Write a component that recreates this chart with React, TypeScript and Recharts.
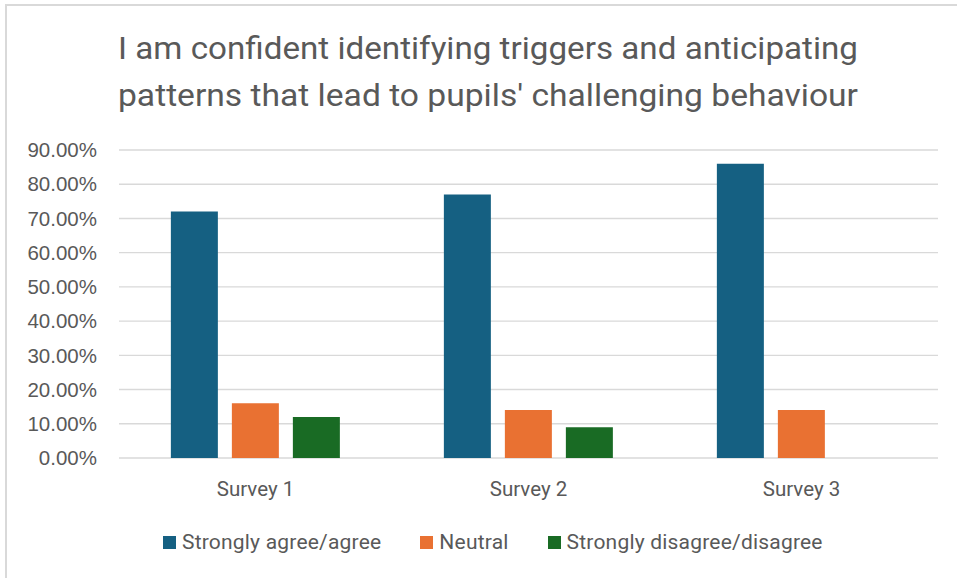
import { BarChart, Bar, XAxis, YAxis, CartesianGrid, Legend } from "recharts";

const categories = ["Survey 1", "Survey 2", "Survey 3"];
const agree = [0.72, 0.77, 0.86];
const neutral = [0.16, 0.14, 0.14];
const disagree = [0.12, 0.09, 0];
const yTicks = [0, 0.1, 0.2, 0.3, 0.4, 0.5, 0.6, 0.7, 0.8, 0.9];

const titleLines = [
  "I am confident identifying triggers and anticipating",
  "patterns that lead to pupils' challenging behaviour",
];

const series = [
  { key: "agree", name: "Strongly agree/agree", color: "#156082" },
  { key: "neutral", name: "Neutral", color: "#E97132" },
  { key: "disagree", name: "Strongly disagree/disagree", color: "#196B24" },
];

const data = categories.map((c, i) => ({
  name: c,
  agree: agree[i],
  neutral: neutral[i],
  disagree: disagree[i],
}));

const TEXT = "#595959";
const GRID = "#D9D9D9";
const LABEL_FONT = "Roboto, 'Open Sans', sans-serif";

// keep the legend in series order instead of the library's alphabetical sort
function LegendRow({ payload }: any) {
  const items = series
    .map((s) => (payload || []).find((p: any) => p.dataKey === s.key))
    .filter(Boolean);
  return (
    <div style={{ display: "flex", alignItems: "center", fontFamily: LABEL_FONT, fontSize: 21, letterSpacing: 0.2, color: TEXT, whiteSpace: "nowrap" }}>
      {items.map((p: any, i: number) => (
        <div key={p.value} style={{ display: "flex", alignItems: "center", marginLeft: i === 0 ? 0 : 39 }}>
          <span style={{ width: 13, height: 13, background: p.color, marginRight: 6, display: "inline-block" }} />
          <span>{p.value}</span>
        </div>
      ))}
    </div>
  );
}

export default function App() {
  return (
    <div style={{ position: "absolute", left: 0, top: 0, width: 957, height: 578, background: "#fff" }}>
      <div
        style={{
          position: "absolute",
          left: 5,
          top: 4,
          width: 952,
          height: 574,
          borderTop: `2px solid ${GRID}`,
          borderLeft: `2px solid ${GRID}`,
          boxSizing: "border-box",
        }}
      />
      <svg width={957} height={130} style={{ position: "absolute", left: 0, top: 0 }}>
        {titleLines.map((t, i) => (
          <text
            key={i}
            x={488}
            y={59 + i * 47}
            textAnchor="middle"
            textLength={740}
            lengthAdjust="spacingAndGlyphs"
            fontFamily={LABEL_FONT}
            fontSize={31}
            fill={TEXT}
          >
            {t}
          </text>
        ))}
      </svg>
      <div style={{ position: "absolute", left: 0, top: 0 }}>
        <BarChart
          width={957}
          height={578}
          data={data}
          margin={{ top: 150, right: 19, bottom: 90, left: 0 }}
          barCategoryGap="19%"
          barGap={14}
        >
          <CartesianGrid stroke={GRID} strokeWidth={1.4} vertical={false} />
          <XAxis
            dataKey="name"
            axisLine={false}
            tickLine={false}
            tickSize={0}
            tickMargin={23}
            tick={{ fill: TEXT, fontSize: 20.5, fontFamily: LABEL_FONT }}
          />
          <YAxis
            width={119}
            domain={[0, 0.9]}
            ticks={yTicks}
            axisLine={false}
            tickLine={false}
            tickSize={0}
            tickMargin={22}
            tickFormatter={(v: number) => `${(v * 100).toFixed(2)}%`}
            tick={{ fill: TEXT, fontSize: 20.5, fontFamily: "'Liberation Sans', Arial, sans-serif" }}
          />
          <Legend
            verticalAlign="middle"
            align="center"
            layout="horizontal"
            content={<LegendRow />}
            wrapperStyle={{ top: 530, left: 163, width: "auto" }}
          />
          {series.map((s) => (
            <Bar key={s.key} dataKey={s.key} name={s.name} fill={s.color} isAnimationActive={false} />
          ))}
        </BarChart>
      </div>
    </div>
  );
}
